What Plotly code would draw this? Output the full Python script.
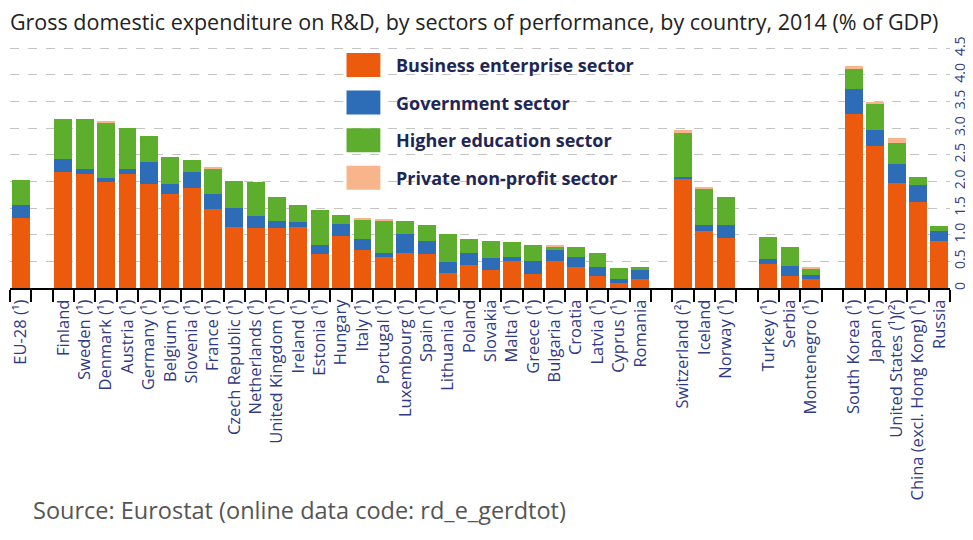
import plotly.graph_objects as go

# Countries in chart order; blank entries are the gaps between country groups
countries = [
    "EU-28 (¹)", " ",
    "Finland", "Sweden (¹)", "Denmark (¹)", "Austria (¹)", "Germany (¹)", "Belgium (¹)",
    "Slovenia (¹)", "France (¹)", "Czech Republic (¹)", "Netherlands (¹)",
    "United Kingdom (¹)", "Ireland (¹)", "Estonia (¹)", "Hungary", "Italy (¹)",
    "Portugal (¹)", "Luxembourg (¹)", "Spain (¹)", "Lithuania (¹)", "Poland", "Slovakia",
    "Malta (¹)", "Greece (¹)", "Bulgaria (¹)", "Croatia", "Latvia (¹)", "Cyprus (¹)", "Romania",
    "  ",
    "Switzerland (²)", "Iceland", "Norway (¹)",
    "   ",
    "Turkey (¹)", "Serbia", "Montenegro (¹)",
    "    ",
    "South Korea (¹)", "Japan (¹)", "United States (¹)(²)", "China (excl. Hong Kong) (¹)", "Russia",
]

# % of GDP (None = gap slot)
business = [
    1.32, None,
    2.17, 2.14, 1.99, 2.14, 1.95, 1.77, 1.87, 1.48, 1.15, 1.12, 1.12, 1.15, 0.63, 0.98,
    0.72, 0.59, 0.66, 0.63, 0.29, 0.44, 0.33, 0.51, 0.26, 0.51, 0.39, 0.23, 0.09, 0.16,
    None,
    2.06, 1.07, 0.93,
    None,
    0.45, 0.23, 0.16,
    None,
    3.27, 2.66, 1.97, 1.61, 0.88,
]
government = [
    0.24, None,
    0.26, 0.10, 0.08, 0.10, 0.42, 0.18, 0.30, 0.29, 0.36, 0.24, 0.14, 0.08, 0.17, 0.22,
    0.20, 0.07, 0.36, 0.25, 0.19, 0.22, 0.23, 0.08, 0.24, 0.21, 0.20, 0.16, 0.07, 0.17,
    None,
    0.02, 0.12, 0.26,
    None,
    0.09, 0.19, 0.08,
    None,
    0.47, 0.30, 0.36, 0.33, 0.19,
]
higher_education = [
    0.47, None,
    0.75, 0.94, 1.03, 0.77, 0.49, 0.51, 0.24, 0.48, 0.50, 0.63, 0.45, 0.33, 0.67, 0.17,
    0.35, 0.61, 0.23, 0.31, 0.54, 0.26, 0.33, 0.27, 0.30, 0.06, 0.18, 0.27, 0.22, 0.06,
    None,
    0.83, 0.67, 0.52,
    None,
    0.41, 0.35, 0.12,
    None,
    0.37, 0.50, 0.40, 0.15, 0.10,
]
private_non_profit = [
    0.0, None,
    0.0, 0.0, 0.02, 0.0, 0.0, 0.0, 0.0, 0.02, 0.0, 0.0, 0.0, 0.0, 0.0, 0.0,
    0.04, 0.02, 0.0, 0.0, 0.0, 0.0, 0.0, 0.0, 0.0, 0.03, 0.0, 0.0, 0.0, 0.0,
    None,
    0.05, 0.02, 0.0,
    None,
    0.0, 0.0, 0.03,
    None,
    0.06, 0.04, 0.08, 0.0, 0.0,
]

series_names = [
    "Business enterprise sector",
    "Government sector",
    "Higher education sector",
    "Private non-profit sector",
]
series_values = [business, government, higher_education, private_non_profit]
series_colors = ["#EC5A0D", "#2D6CB6", "#5EAE2E", "#F8B48A"]

y_ticks = [0, 0.5, 1.0, 1.5, 2.0, 2.5, 3.0, 3.5, 4.0, 4.5]
y_tick_labels = ["0", "0.5", "1.0", "1.5", "2.0", "2.5", "3.0", "3.5", "4.0", "4.5"]

FONT = "Open Sans"
NAVY = "#2F3A85"

# the page body adds an 8px margin, so the figure is a bit smaller than the window
fig = go.Figure()
for name, values, color in zip(series_names, series_values, series_colors):
    fig.add_trace(go.Bar(
        x=countries, y=values, name=name,
        marker=dict(color=color, line=dict(width=0)),
        showlegend=False,
    ))

# white panel behind the legend hides the gridlines there
fig.add_shape(type="rect", xref="paper", yref="paper",
              x0=0.343, x1=0.689, y0=0.371, y1=1.0,
              fillcolor="white", line=dict(width=0), layer="below")

# hand-drawn legend with large swatches
plot_h = 245
for i, (name, color) in enumerate(zip(series_names, series_colors)):
    yc = 1 - (22 + 37.6 * i) / plot_h
    fig.add_shape(type="rect", xref="paper", yref="paper",
                  x0=0.358, x1=0.394, y0=yc - 12 / plot_h, y1=yc + 12 / plot_h,
                  fillcolor=color, line=dict(width=0))
    fig.add_annotation(xref="paper", yref="paper", x=0.409, y=yc,
                       xanchor="left", yanchor="middle", showarrow=False,
                       text="<b>%s</b>" % name,
                       font=dict(family=FONT, size=18, color="#1E2656"))

fig.add_annotation(xref="paper", yref="paper", x=0.022, y=-0.906,
                   xanchor="left", yanchor="middle", showarrow=False,
                   text="Source: Eurostat (online data code: rd_e_gerdtot)",
                   font=dict(family=FONT, size=23.5, color="#555555"))

fig.update_layout(
    width=965, height=532,
    margin=dict(l=2, r=23, t=35, b=252),
    paper_bgcolor="white", plot_bgcolor="white",
    barmode="stack", bargap=0.16,
    title=dict(
        text="Gross domestic expenditure on R&D, by sectors of performance, by country, 2014 (% of GDP)",
        x=0.002, xanchor="left", y=0.972, yanchor="middle",
        font=dict(family=FONT, size=21.5, color="#222222"),
    ),
    xaxis=dict(
        type="category", range=[-0.5, len(countries) - 0.5],
        tickangle=-90, ticks="outside", tickson="boundaries",
        ticklen=12, tickwidth=2, tickcolor="black", ticklabelstandoff=3,
        showline=True, linecolor="black", linewidth=2,
        showgrid=False, automargin=False,
        tickfont=dict(family=FONT, size=16.5, color=NAVY),
    ),
    yaxis=dict(
        side="right", range=[0, 4.6],
        tickvals=y_ticks, ticktext=y_tick_labels, tickangle=-90,
        showgrid=True, gridcolor="#C4C4C4", griddash="dash", gridwidth=1,
        zeroline=False, showline=False, ticks="", automargin=False,
        tickfont=dict(family=FONT, size=14, color=NAVY),
    ),
)

fig.write_html("out.html")
